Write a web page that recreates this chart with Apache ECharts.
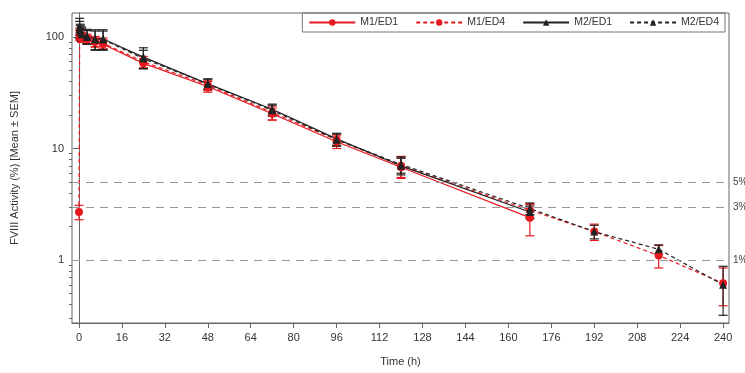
<!DOCTYPE html>
<html>
<head>
<meta charset="utf-8">
<script src="https://cdn.jsdelivr.net/npm/echarts@6/dist/echarts.min.js"></script>
<style>
  html, body { margin: 0; padding: 0; background: #fff; }
  #chart { width: 745px; height: 373px; }
</style>
</head>
<body>
<div id="chart"></div>
<script>
// time points (h)
const timesED1 = [0.25, 0.5, 1, 3, 6, 9, 24, 48, 72, 96, 120, 168];
const timesM1ED4 = [0, 0.25, 0.5, 1, 3, 6, 9, 24, 48, 72, 96, 120, 168, 192, 216, 240];
const timesM2ED4 = [0.25, 0.5, 1, 3, 6, 9, 24, 48, 72, 96, 120, 168, 192, 216, 240];

// mean FVIII activity (%)
const meanM1ED1 = [104, 100, 98, 95, 90, 86, 58, 36, 20.5, 11.5, 6.8, 2.4];
const meanM1ED4 = [2.7, 108, 104, 100, 96, 91, 88, 60, 37, 21, 12, 7, 2.8, 1.8, 1.1, 0.62];
const meanM2ED1 = [125, 115, 108, 102, 96, 96, 66, 38, 22.5, 12.2, 7.0, 2.7];
const meanM2ED4 = [118, 112, 106, 100, 95, 95, 64, 38, 22, 12, 7.2, 2.9, 1.8, 1.25, 0.6];

// SEM
const semM1ED1 = [10, 8, 8, 8, 8, 8, 6, 4, 2.5, 1.5, 1.4, 0.75];
const semM1ED4 = [0.4, 12, 10, 10, 10, 10, 10, 7, 4, 3, 1.5, 1.5, 0.4, 0.3, 0.25, 0.23];
const semM2ED1 = [22, 15, 15, 15, 20, 20, 14, 4, 2.5, 1.5, 1.2, 0.35];
const semM2ED4 = [20, 14, 14, 14, 18, 18, 12, 4, 2.5, 1.5, 1.2, 0.35, 0.25, 0.12, 0.28];

// axis ticks and reference levels
const xTicks = [0, 16, 32, 48, 64, 80, 96, 112, 128, 144, 160, 176, 192, 208, 224, 240];
const yMajor = [1, 10, 100];
const yMinor = [0.3, 0.4, 0.5, 0.6, 0.7, 0.8, 0.9, 2, 3, 4, 5, 6, 7, 8, 9, 20, 30, 40, 50, 60, 70, 80, 90];
const refLevels = [5, 3, 1];

const RED = "#e8191e";
const BLACK = "#222";
const FONT = "Liberation Sans";

const chart = echarts.init(document.getElementById("chart"));

function pairs(t, v) { return t.map((x, i) => [x, v[i]]); }
function bars(t, v, s) { return t.map((x, i) => [x, v[i] - s[i], v[i] + s[i]]); }

// SEM error bars with caps
function errorSeries(name, data, color) {
  return {
    type: "custom",
    name: name,
    silent: true,
    data: data,
    z: 3,
    renderItem: (params, api) => {
      const lo = api.coord([api.value(0), api.value(1)]);
      const hi = api.coord([api.value(0), api.value(2)]);
      const w = 4.5;
      const style = { stroke: color, lineWidth: 1.2 };
      return {
        type: "group",
        children: [
          { type: "line", shape: { x1: lo[0], y1: lo[1], x2: hi[0], y2: hi[1] }, style },
          { type: "line", shape: { x1: lo[0] - w, y1: lo[1], x2: lo[0] + w, y2: lo[1] }, style },
          { type: "line", shape: { x1: hi[0] - w, y1: hi[1], x2: hi[0] + w, y2: hi[1] }, style },
        ],
      };
    },
  };
}

function lineSeries(name, data, color, dashed, symbol) {
  return {
    name: name,
    type: "line",
    data: data,
    symbol: symbol,
    symbolSize: 8,
    z: 4,
    lineStyle: { color: color, width: 1.2, type: dashed ? [4, 3] : "solid" },
    itemStyle: { color: color },
  };
}

const yCommon = {
  type: "log",
  logBase: 10,
  min: 0.273,
  max: 164,
  splitLine: { show: false },
};

const option = {
  backgroundColor: "#fff",
  animation: false,
  textStyle: { fontFamily: FONT },
  grid: {
    left: 72, right: 16, top: 13, bottom: 50,
    show: true, borderColor: "#666", borderWidth: 1,
  },
  legend: {
    data: ["M1/ED1", "M1/ED4", "M2/ED1", "M2/ED4"],
    top: 13,
    right: 20,
    itemWidth: 46,
    itemHeight: 8,
    itemGap: 17,
    padding: [4, 6],
    borderColor: "#777",
    borderWidth: 1,
    textStyle: { fontSize: 10.5, color: "#333", fontFamily: FONT },
  },
  xAxis: {
    type: "value",
    min: -2.6,
    max: 242.2,
    name: "Time (h)",
    nameLocation: "middle",
    nameGap: 33,
    nameTextStyle: { fontSize: 11, color: "#333" },
    axisLine: { lineStyle: { color: "#666" } },
    axisTick: { customValues: xTicks, length: 5, lineStyle: { color: "#666" } },
    axisLabel: { customValues: xTicks, fontSize: 11, color: "#333", margin: 9 },
    splitLine: { show: false },
  },
  yAxis: [
    Object.assign({}, yCommon, {
      name: "FVIII Activity (%) [Mean ± SEM]",
      nameLocation: "middle",
      nameGap: 52,
      nameTextStyle: { fontSize: 11, color: "#333" },
      axisLine: { show: true, lineStyle: { color: "#666" } },
      axisTick: { customValues: yMajor, length: 6, lineStyle: { color: "#666" } },
      axisLabel: { customValues: yMajor, fontSize: 11, color: "#333", margin: 8 },
    }),
    Object.assign({}, yCommon, {
      position: "left",
      offset: 0,
      axisLine: { show: false },
      axisTick: { customValues: yMinor, length: 3, lineStyle: { color: "#666" } },
      axisLabel: { show: false },
    }),
  ],
  series: [
    Object.assign(lineSeries("M1/ED1", pairs(timesED1, meanM1ED1), RED, false, "circle"), {
      markLine: {
        silent: true,
        symbol: "none",
        lineStyle: { color: "#999", type: [8, 6], width: 1 },
        label: { position: "end", formatter: "{c}%", fontSize: 10, color: "#444", distance: 4 },
        data: refLevels.map(v => ({ yAxis: v })),
      },
    }),
    lineSeries("M1/ED4", pairs(timesM1ED4, meanM1ED4), RED, true, "circle"),
    lineSeries("M2/ED1", pairs(timesED1, meanM2ED1), BLACK, false, "triangle"),
    lineSeries("M2/ED4", pairs(timesM2ED4, meanM2ED4), BLACK, true, "triangle"),
    errorSeries("e1", bars(timesED1, meanM1ED1, semM1ED1), RED),
    errorSeries("e2", bars(timesM1ED4, meanM1ED4, semM1ED4), RED),
    errorSeries("e3", bars(timesED1, meanM2ED1, semM2ED1), BLACK),
    errorSeries("e4", bars(timesM2ED4, meanM2ED4, semM2ED4), BLACK),
  ],
};

chart.setOption(option);
</script>
</body>
</html>
